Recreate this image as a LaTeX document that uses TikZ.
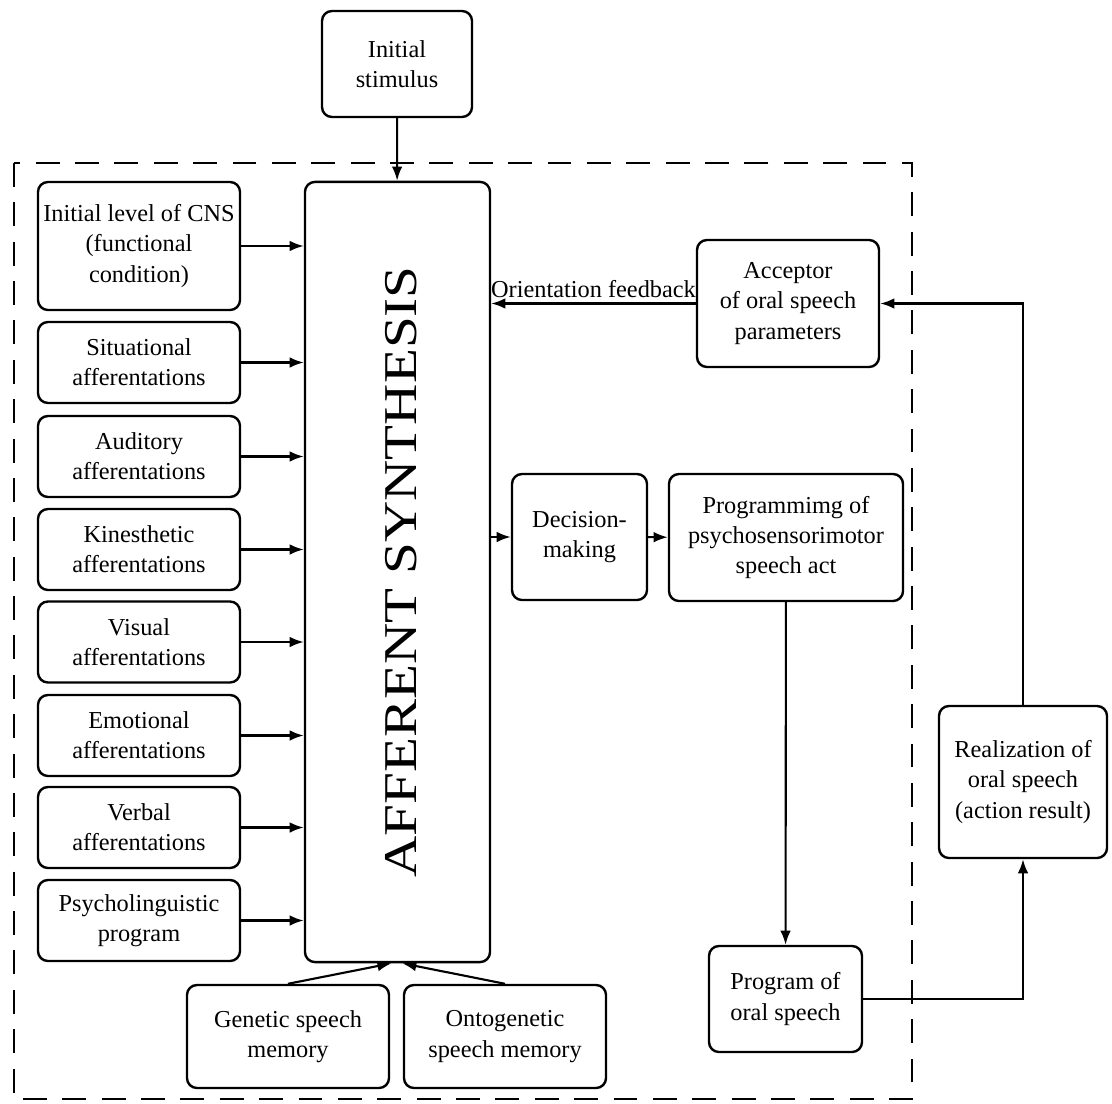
\documentclass[tikz,border=0pt]{standalone}
\usepackage{fontspec}
\usepackage{graphicx}
\setmainfont{Liberation Serif}
\usetikzlibrary{arrows.meta}

\tikzset{
  block/.style={draw, line width=1.7pt, rounded corners=0.25cm, align=center, inner sep=2pt,
    font=\fontsize{17.3}{21.5}\selectfont},
  arrow/.style={line width=1.5pt, -{Latex[length=10pt, width=7.5pt]}},
  frame/.style={line width=2pt, dash pattern=on 17pt off 11pt}
}

\begin{document}
\begin{tikzpicture}[x=0.025cm, y=-0.025cm]
		\useasboundingbox (0,0) rectangle (1112,1104);
		% Frame:
		\draw[frame] (14,163) rectangle (912,1099);
		% Nodes:
		\node[block, minimum width=3.75cm, minimum height=2.65cm] (stim) at (397,64) {Initial\\stimulus};
		\node[block, minimum width=4.625cm, minimum height=19.5cm] (aff) at (397.5,572) {\hspace*{0.2cm}\rotatebox{90}{\scalebox{1.07}[0.88]{\fontsize{38}{38}\selectfont AFFERENT SYNTHESIS}}};
		\node[block, minimum width=5.05cm, minimum height=3.2cm] (cns) at (139,246) {Initial level of CNS\\(functional\\condition)};
		\node[block, minimum width=5.05cm, minimum height=2.025cm] (sit) at (139,362.5) {Situational\\afferentations};
		\node[block, minimum width=5.05cm, minimum height=2.025cm] (aud) at (139,456.5) {Auditory\\afferentations};
		\node[block, minimum width=5.05cm, minimum height=2.025cm] (kin) at (139,549.5) {Kinesthetic\\afferentations};
		\node[block, minimum width=5.05cm, minimum height=2.025cm] (vis) at (139,642) {Visual\\afferentations};
		\node[block, minimum width=5.05cm, minimum height=2.025cm] (emo) at (139,735.5) {Emotional\\afferentations};
		\node[block, minimum width=5.05cm, minimum height=2.025cm] (verb) at (139,827.5) {Verbal\\afferentations};
		\node[block, minimum width=5.05cm, minimum height=2.025cm] (psy) at (139,920.5) {Psycholinguistic\\program};
		\node[block, minimum width=5.05cm, minimum height=2.575cm] (gen) at (288,1036.5) {Genetic speech\\memory};
		\node[block, minimum width=5.05cm, minimum height=2.575cm] (onto) at (505,1036.5) {Ontogenetic\\speech memory};
		\node[block, minimum width=4.55cm, minimum height=3.175cm] (acc) at (788,303.5) {Acceptor\\of oral speech\\parameters};
		\node[block, minimum width=3.375cm, minimum height=3.15cm] (dec) at (579.5,537) {Decision-\\making};
		\node[block, minimum width=5.85cm, minimum height=3.175cm] (prog) at (786,537.5) {Programmimg of\\psychosensorimotor\\speech act};
		\node[block, minimum width=3.825cm, minimum height=2.65cm] (pos) at (785.5,999) {Program of\\oral speech};
		\node[block, minimum width=4.2cm, minimum height=3.8cm] (real) at (1023,782) {Realization of\\oral speech\\(action result)};
		% Arrows:
		\draw[arrow] (stim) -- (aff);
		\draw[arrow] (cns.east) -- (cns.east -| aff.west);
		\draw[arrow] (sit.east) -- (sit.east -| aff.west);
		\draw[arrow] (aud.east) -- (aud.east -| aff.west);
		\draw[arrow] (kin.east) -- (kin.east -| aff.west);
		\draw[arrow] (vis.east) -- (vis.east -| aff.west);
		\draw[arrow] (emo.east) -- (emo.east -| aff.west);
		\draw[arrow] (verb.east) -- (verb.east -| aff.west);
		\draw[arrow] (psy.east) -- (psy.east -| aff.west);
		\draw[arrow] (gen.north) -- ([xshift=-0.15cm]aff.south);
		\draw[arrow] (onto.north) -- ([xshift=0.12cm]aff.south);
		\draw[arrow] (acc.west) -- node[above, inner sep=3pt, font=\fontsize{17.3}{21.5}\selectfont] {Orientation feedback} (acc.west -| aff.east);
		\draw[arrow] (dec.west -| aff.east) -- (dec.west);
		\draw[arrow] (dec) -- (prog);
		\draw[arrow] (prog) -- (pos);
		\draw[arrow] (pos.east) -| (real.south);
		\draw[arrow] (real.north) |- (acc.east);
	\end{tikzpicture}
\end{document}
